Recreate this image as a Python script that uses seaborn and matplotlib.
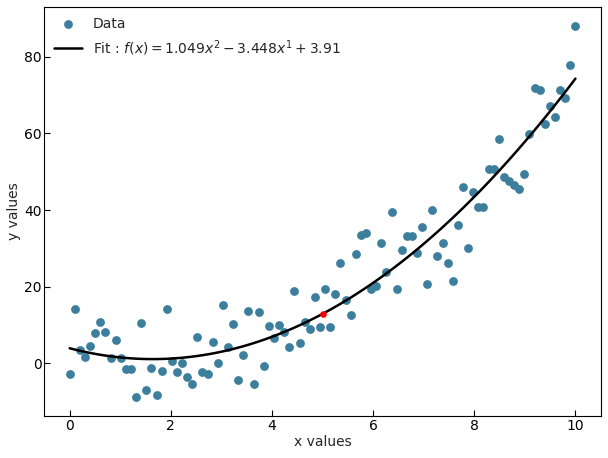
import numpy as np
import pandas as pd
from matplotlib import pyplot as plt
import seaborn as sns

x_vals = np.linspace(0, 10, 100)
y_vals = [-2.9, 14.1, 3.4, 1.6, 4.4, 7.8, 10.7, 8.1, 1.3, 6.0,
          1.3, -1.6, -1.6, -8.9, 10.4, -7.0, -1.3, -8.3, -2.1, 14.1,
          0.5, -2.3, 0.0, -3.6, -5.5, 6.8, -2.3, -2.9, 5.5, 0.0,
          15.1, 4.2, 10.2, -4.4, 2.1, 13.6, -5.5, 13.3, -0.8, 9.6,
          6.5, 9.9, 8.1, 4.2, 18.8, 5.2, 10.7, 8.9, 17.2, 9.4,
          19.3, 9.4, 18.2, 26.3, 16.4, 12.5, 28.4, 33.6, 34.1, 19.5,
          20.1, 31.3, 23.7, 39.6, 19.3, 29.7, 33.1, 33.1, 28.7, 35.7,
          20.8, 39.9, 27.9, 31.3, 26.1, 21.6, 36.0, 45.9, 30.2, 44.8,
          40.7, 40.9, 50.8, 50.6, 58.6, 48.7, 47.7, 46.6, 45.6, 49.5,
          59.9, 71.9, 71.4, 62.5, 67.2, 64.4, 71.4, 69.3, 77.9, 88.1]
coefs = [1.049, -3.448, 3.91]
x_mark = 5

data = pd.DataFrame({'x': x_vals, 'y': y_vals})
fit = pd.DataFrame({'x': x_vals, 'y': np.polyval(coefs, x_vals)})

sns.set_style("ticks", {"xtick.direction": "in", "ytick.direction": "in",
                        "axes.edgecolor": "black"})
fig, ax = plt.subplots(figsize=(6.08, 4.58), dpi=100)
fig.subplots_adjust(left=0.073, right=0.988, top=0.984, bottom=0.092)

sns.scatterplot(data=data, x='x', y='y', color='#3b7f9d', s=40, linewidth=0,
                label='Data', ax=ax)
sns.lineplot(data=fit, x='x', y='y', color='black', linewidth=1.8,
             label=r'Fit : $f(x) = 1.049x^2 - 3.448x^1 + 3.91$', ax=ax)
ax.scatter([x_mark], [np.polyval(coefs, x_mark)], color='red', s=14, zorder=5)

ax.set_xlabel('x values', labelpad=2)
ax.set_ylabel('y values', labelpad=2)
ax.set_xticks([0, 2, 4, 6, 8, 10])
ax.set_yticks([0, 20, 40, 60, 80])
ax.legend(loc='upper left', frameon=False, borderaxespad=0.3)
for s in ax.spines.values():
    s.set_color('black')
ax.tick_params(colors='black', pad=2, length=4)

plt.savefig('out.png')
